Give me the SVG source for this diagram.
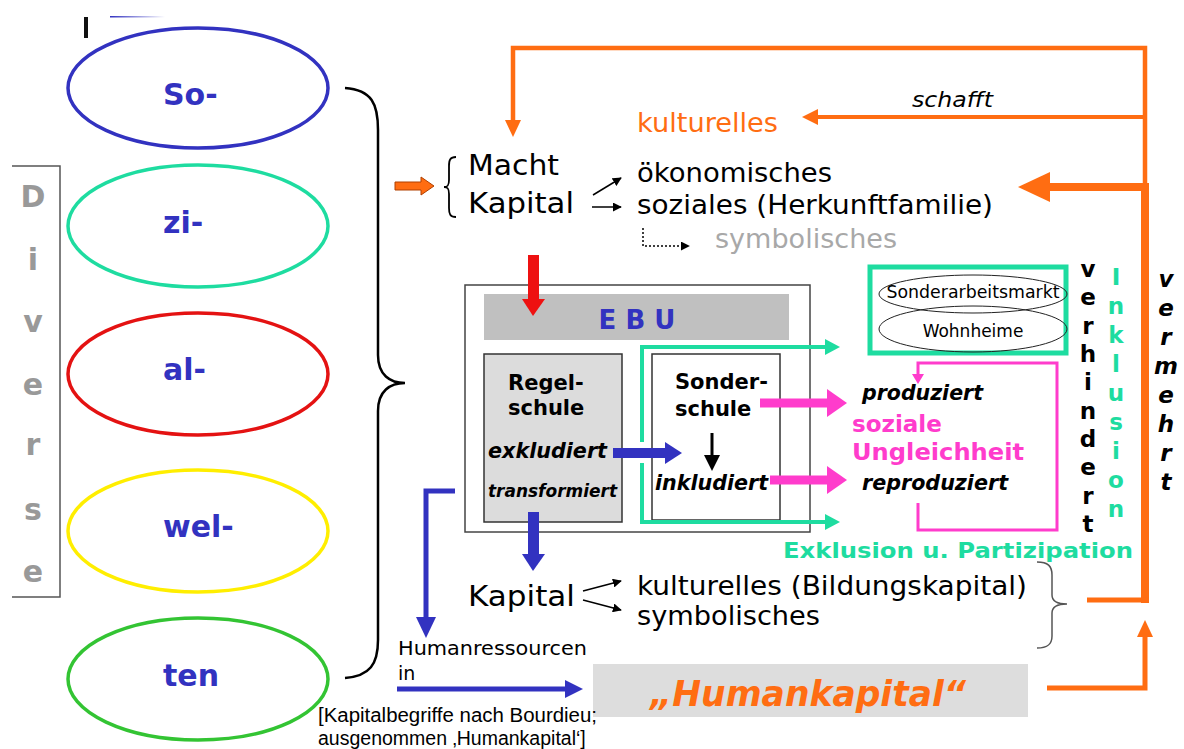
<svg xmlns="http://www.w3.org/2000/svg" width="1184" height="749" viewBox="0 0 1184 749">
<defs>
<style>
.v{font-family:"DejaVu Sans","Verdana",sans-serif}
.a{font-family:"Liberation Sans","Arial",sans-serif}
.b{font-weight:bold}
.i{font-style:italic}
.blue{fill:#3232c0}
.gray{fill:#999999}
.or{fill:#ff6d12}
.teal{fill:#1edca0}
.pink{fill:#ff3ccc}
.ell{fill:none;stroke-width:3.5}
.sync{font-size:30px;font-weight:bold}
.div{font-size:30px;font-weight:bold;fill:#999999;text-anchor:middle}
.vl{font-size:23px;font-weight:bold;text-anchor:middle}
.thin{stroke:#000;stroke-width:1.5;fill:none}
</style>
<marker id="ah" viewBox="0 0 10 10" refX="9" refY="5" markerWidth="9" markerHeight="9" markerUnits="userSpaceOnUse" orient="auto"><path d="M0,0 L10,5 L0,10 z" fill="#000"/></marker>
<linearGradient id="fade" x1="0" x2="1" y1="0" y2="0"><stop offset="0" stop-color="#3232c0"/><stop offset="1" stop-color="#3232c0" stop-opacity="0"/></linearGradient>
</defs>
<rect width="1184" height="749" fill="#ffffff"/>

<rect x="84" y="17" width="4" height="21" fill="#111"/>
<rect x="110" y="16" width="55" height="1.5" fill="url(#fade)"/>

<g id="diverse">
<path d="M12,166 H60 V597 H12" fill="none" stroke="#555" stroke-width="1.5"/>
<text class="v div" x="33" y="207">D</text>
<text class="v div" x="33" y="270">i</text>
<text class="v div" x="33" y="332">v</text>
<text class="v div" x="33" y="395">e</text>
<text class="v div" x="33" y="455">r</text>
<text class="v div" x="33" y="520">s</text>
<text class="v div" x="33" y="582">e</text>
</g>

<g id="so"><ellipse class="ell" cx="198" cy="88" rx="130" ry="60" stroke="#3232c0"/><text class="v sync blue" x="163" y="105">So-</text></g>
<g id="zi"><ellipse class="ell" cx="198" cy="226" rx="130" ry="61" stroke="#1edca0"/><text class="v sync blue" x="163" y="233">zi-</text></g>
<g id="al"><ellipse class="ell" cx="198" cy="374" rx="130" ry="61" stroke="#e41212"/><text class="v sync blue" x="163" y="380">al-</text></g>
<g id="wel"><ellipse class="ell" cx="198" cy="531" rx="130" ry="61" stroke="#ffee00"/><text class="v sync blue" x="163" y="537">wel-</text></g>
<g id="ten"><ellipse class="ell" cx="198" cy="679" rx="130" ry="61" stroke="#33c433"/><text class="v sync blue" x="163" y="686">ten</text></g>

<g id="bigbrace">
<path d="M345,88 C372,90 378,104 378,130 L378,355 C378,375 390,383 405,383 C390,383 378,391 378,411 L378,640 C378,664 370,676 345,678" fill="none" stroke="#000" stroke-width="2.5"/>
</g>

<g id="macht">
<path d="M456,157 C450,157 449,160 449,166 L449,180 C449,185 448,187 444,187 C448,187 449,189 449,194 L449,208 C449,214 450,217 456,217" fill="none" stroke="#000" stroke-width="1.8"/>
<text class="v" x="468" y="175" font-size="28" textLength="91" lengthAdjust="spacingAndGlyphs">Macht</text>
<text class="v" x="468" y="213" font-size="28" textLength="106" lengthAdjust="spacingAndGlyphs">Kapital</text>
</g>

<g id="kapitalarten1">
<text class="v or" x="637" y="132" font-size="26" textLength="141" lengthAdjust="spacingAndGlyphs">kulturelles</text>
<text class="v" x="637" y="182" font-size="26" textLength="195" lengthAdjust="spacingAndGlyphs">ökonomisches</text>
<text class="v" x="637" y="214" font-size="26" textLength="356" lengthAdjust="spacingAndGlyphs">soziales (Herkunftfamilie)</text>
<text class="v" x="715" y="248" font-size="26" fill="#a8a8a8" textLength="182" lengthAdjust="spacingAndGlyphs">symbolisches</text>
</g>

<text class="v i" x="912" y="107" font-size="22" textLength="81" lengthAdjust="spacingAndGlyphs">schafft</text>

<g id="ebu">
<rect x="465" y="285" width="345" height="247" fill="#fff" stroke="#444" stroke-width="1.5"/>
<rect x="484" y="294" width="305" height="46" fill="#c0c0c0"/>
<text class="v b blue" x="637" y="329" font-size="26" text-anchor="middle">E B U</text>
</g>
<g id="regelschule">
<rect x="484" y="354" width="138" height="168" fill="#dcdcdc" stroke="#333" stroke-width="1.5"/>
<text class="v b" x="508" y="390" font-size="21">Regel-</text>
<text class="v b" x="508" y="415" font-size="21">schule</text>
<text class="v b i" x="488" y="458" font-size="20.5" textLength="119" lengthAdjust="spacingAndGlyphs">exkludiert</text>
<text class="v b i" x="488" y="497" font-size="17" textLength="129" lengthAdjust="spacingAndGlyphs">transformiert</text>
</g>
<g id="sonderschule">
<rect x="652" y="354" width="128" height="166" fill="#fff" stroke="#333" stroke-width="1.5"/>
<text class="v b" x="675" y="389" font-size="21">Sonder-</text>
<text class="v b" x="675" y="416" font-size="21">schule</text>
<text class="v b i" x="655" y="490" font-size="20.5" textLength="113" lengthAdjust="spacingAndGlyphs">inkludiert</text>
</g>

<g id="sonderarbeitsmarkt">
<rect x="870" y="267" width="196" height="86" fill="none" stroke="#1edca0" stroke-width="5"/>
<ellipse cx="973" cy="294" rx="94" ry="19" fill="none" stroke="#222" stroke-width="1"/>
<ellipse cx="973" cy="329" rx="94" ry="23" fill="none" stroke="#222" stroke-width="1"/>
<text class="v" x="973" y="298" font-size="17" text-anchor="middle" textLength="173" lengthAdjust="spacingAndGlyphs">Sonderarbeitsmarkt</text>
<text class="v" x="973" y="337" font-size="17" text-anchor="middle">Wohnheime</text>
</g>

<g id="ungleichheit">
<text class="v b i" x="862" y="400" font-size="20.5" textLength="121" lengthAdjust="spacingAndGlyphs">produziert</text>
<text class="v b pink" x="852" y="432" font-size="23">soziale</text>
<text class="v b pink" x="852" y="460" font-size="23" textLength="172" lengthAdjust="spacingAndGlyphs">Ungleichheit</text>
<text class="v b i" x="862" y="490" font-size="20.5" textLength="146" lengthAdjust="spacingAndGlyphs">reproduziert</text>
</g>

<g id="verhindert">
<text class="v vl" x="1088" y="277">v</text>
<text class="v vl" x="1088" y="305">e</text>
<text class="v vl" x="1088" y="334">r</text>
<text class="v vl" x="1088" y="362">h</text>
<text class="v vl" x="1088" y="390">i</text>
<text class="v vl" x="1088" y="419">n</text>
<text class="v vl" x="1088" y="447">d</text>
<text class="v vl" x="1088" y="475">e</text>
<text class="v vl" x="1088" y="504">r</text>
<text class="v vl" x="1088" y="532">t</text>
</g>
<g id="inklusion">
<text class="v vl teal" x="1116" y="285">I</text>
<text class="v vl teal" x="1116" y="314">n</text>
<text class="v vl teal" x="1116" y="343">k</text>
<text class="v vl teal" x="1116" y="372">l</text>
<text class="v vl teal" x="1116" y="401">u</text>
<text class="v vl teal" x="1116" y="430">s</text>
<text class="v vl teal" x="1116" y="459">i</text>
<text class="v vl teal" x="1116" y="488">o</text>
<text class="v vl teal" x="1116" y="517">n</text>
</g>
<g id="vermehrt">
<text class="v vl i" x="1166" y="287">v</text>
<text class="v vl i" x="1166" y="316">e</text>
<text class="v vl i" x="1166" y="345">r</text>
<text class="v vl i" x="1166" y="374">m</text>
<text class="v vl i" x="1166" y="403">e</text>
<text class="v vl i" x="1166" y="432">h</text>
<text class="v vl i" x="1166" y="461">r</text>
<text class="v vl i" x="1166" y="490">t</text>
</g>

<text class="v b teal" x="783" y="558" font-size="22" textLength="350" lengthAdjust="spacingAndGlyphs">Exklusion u. Partizipation</text>

<g id="kapital2">
<text class="v" x="468" y="606" font-size="28" textLength="107" lengthAdjust="spacingAndGlyphs">Kapital</text>
<text class="v" x="637" y="595" font-size="26" textLength="390" lengthAdjust="spacingAndGlyphs">kulturelles (Bildungskapital)</text>
<text class="v" x="637" y="625" font-size="26" textLength="183" lengthAdjust="spacingAndGlyphs">symbolisches</text>
<path d="M1037,562 C1048,562 1052,566 1052,575 L1052,595 C1052,601 1058,604 1067,604 C1058,604 1052,607 1052,613 L1052,636 C1052,644 1048,648 1037,648" fill="none" stroke="#555" stroke-width="1.5"/>
</g>

<g id="humanres">
<text class="v" x="398" y="655" font-size="19" textLength="189" lengthAdjust="spacingAndGlyphs">Humanressourcen</text>
<text class="v" x="398" y="680" font-size="19">in</text>
</g>

<g id="humankapital">
<rect x="593" y="664" width="435" height="53" fill="#dddddd"/>
<text class="v b i or" x="650" y="706" font-size="35" textLength="316" lengthAdjust="spacingAndGlyphs">„Humankapital“</text>
</g>

<g id="note">
<text class="a" x="318" y="722" font-size="19.5" textLength="279" lengthAdjust="spacingAndGlyphs">[Kapitalbegriffe nach Bourdieu;</text>
<text class="a" x="318" y="745" font-size="19.5">ausgenommen ‚Humankapital‘]</text>
</g>

<g id="connectors">
<polygon points="395,182 421,182 421,177 434,186 421,195 421,190 395,190" fill="#ff6d12" stroke="#b04000" stroke-width="1"/>
<line class="thin" x1="593" y1="195" x2="621" y2="178" marker-end="url(#ah)"/>
<line class="thin" x1="592" y1="207" x2="621" y2="207" marker-end="url(#ah)"/>
<path class="thin" d="M643,228 V246 H689" stroke-dasharray="2,2" marker-end="url(#ah)"/>
<line class="thin" x1="583" y1="591" x2="621" y2="581" marker-end="url(#ah)"/>
<line class="thin" x1="583" y1="600" x2="621" y2="610" marker-end="url(#ah)"/>

<path d="M1145,189 V48 H513 V121" fill="none" stroke="#ff6d12" stroke-width="4.5"/>
<polygon points="505,120 521,120 513,137" fill="#ff6d12"/>
<line x1="1145" y1="117" x2="814" y2="117" stroke="#ff6d12" stroke-width="4"/>
<polygon points="802,117 818,109 818,125" fill="#ff6d12"/>
<line x1="1149" y1="187" x2="1048" y2="187" stroke="#ff6d12" stroke-width="8"/>
<polygon points="1018,187 1050,172 1050,202" fill="#ff6d12"/>
<line x1="1145" y1="185" x2="1145" y2="603" stroke="#ff6d12" stroke-width="8"/>
<line x1="1087" y1="600" x2="1149" y2="600" stroke="#ff6d12" stroke-width="5"/>
<path d="M1047,688 H1145 V634" fill="none" stroke="#ff6d12" stroke-width="5"/>
<polygon points="1137,637 1153,637 1145,620" fill="#ff6d12"/>

<rect x="528" y="255" width="11" height="46" fill="#ee1111"/>
<polygon points="522,299 545,299 533,316" fill="#ee1111"/>

<rect x="528" y="512" width="11" height="44" fill="#3232c0"/>
<polygon points="522,554 545,554 533,571" fill="#3232c0"/>
<rect x="613" y="448" width="54" height="10" fill="#3232c0"/>
<polygon points="665,442 665,464 682,453" fill="#3232c0"/>
<path d="M455,491 H426 V620" fill="none" stroke="#3232c0" stroke-width="5"/>
<polygon points="416,617 436,617 426,638" fill="#3232c0"/>
<line x1="397" y1="689" x2="567" y2="689" stroke="#3232c0" stroke-width="5"/>
<polygon points="565,680 565,698 583,689" fill="#3232c0"/>

<line x1="712" y1="433" x2="712" y2="457" stroke="#000" stroke-width="3"/>
<polygon points="704,455 720,455 712,471" fill="#000"/>

<path d="M827,347 H642 V442" fill="none" stroke="#1edca0" stroke-width="4"/>
<path d="M642,463 V522 H827" fill="none" stroke="#1edca0" stroke-width="4"/>
<polygon points="825,339 825,355 840,347" fill="#1edca0"/>
<polygon points="825,514 825,530 840,522" fill="#1edca0"/>

<line x1="760" y1="403" x2="830" y2="403" stroke="#ff3ccc" stroke-width="9"/>
<polygon points="827,389 827,417 847,403" fill="#ff3ccc"/>
<line x1="770" y1="480" x2="830" y2="480" stroke="#ff3ccc" stroke-width="9"/>
<polygon points="827,466 827,494 847,480" fill="#ff3ccc"/>
<path d="M918,503 V530 H1057 V363 H918 V376" fill="none" stroke="#ff3ccc" stroke-width="3"/>
<polygon points="912,374 924,374 918,384" fill="#ff3ccc"/>
</g>
</svg>
